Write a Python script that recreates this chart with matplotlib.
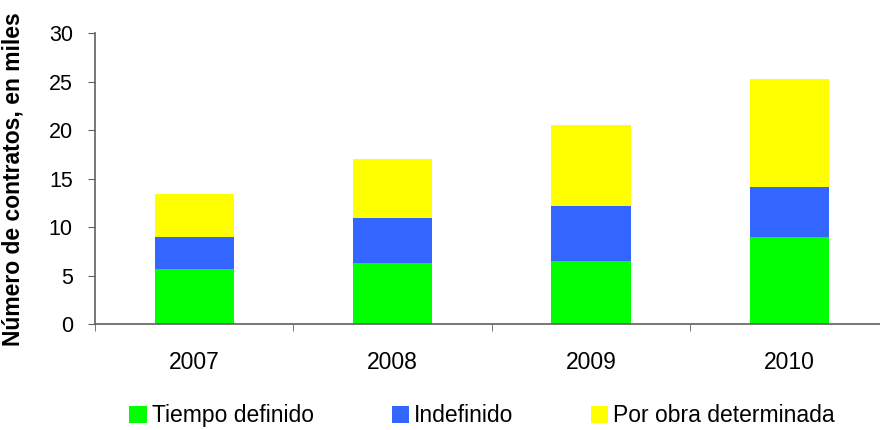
import matplotlib
matplotlib.use("Agg")
import matplotlib.pyplot as plt
import numpy as np

plt.rcParams['font.family'] = ['Liberation Sans', 'DejaVu Sans']

years = ['2007', '2008', '2009', '2010']
tiempo_definido = [5.7, 6.3, 6.5, 9.0]
indefinido = [3.3, 4.65, 5.7, 5.15]
por_obra = [4.4, 6.1, 8.3, 11.1]

x = np.arange(len(years))
fig = plt.figure(figsize=(8.8, 4.3), dpi=100)
ax = fig.add_axes([0.108, 0.246, 0.902, 0.677])

w = 0.40
b1 = ax.bar(x, tiempo_definido, w, color='#00FF00', label='Tiempo definido')
base = np.array(tiempo_definido)
b2 = ax.bar(x, indefinido, w, bottom=base, color='#3366FF', label='Indefinido')
base = base + np.array(indefinido)
b3 = ax.bar(x, por_obra, w, bottom=base, color='#FFFF00', label='Por obra determinada')

ax.set_xlim(-0.5, 3.5)
ax.set_ylim(0, 30)
ax.set_yticks(range(0, 31, 5))
ax.set_xticks(x)
ax.set_xticklabels(years)
ax.set_xticks(np.arange(-0.5, 3.6, 1), minor=True)
ax.tick_params(axis='x', which='major', length=0, pad=19, labelsize=16.5)
ax.tick_params(axis='x', which='minor', length=5, color='#606060')
ax.tick_params(axis='y', length=5, pad=11, labelsize=15.5, color='#606060')

for s in ['top', 'right']:
    ax.spines[s].set_visible(False)
for s in ['left', 'bottom']:
    ax.spines[s].set_color('#606060')
    ax.spines[s].set_linewidth(1.2)

ax.set_ylabel('Número de contratos, en miles', fontsize=16.5, fontweight='bold')
ax.yaxis.set_label_coords(-0.089, 0.5)

fig.legend(handles=[b1, b2, b3], loc='center', bbox_to_anchor=(0.548, 0.033), ncol=3,
           frameon=False, fontsize=16.5, handlelength=0.75, handleheight=0.75,
           handletextpad=0.22, columnspacing=3.4)

fig.savefig('out.png', dpi=100)
